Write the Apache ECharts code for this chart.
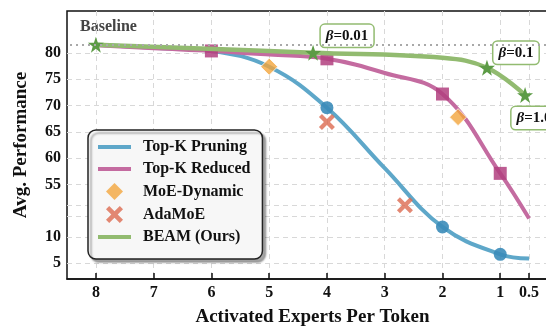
<!DOCTYPE html>
<html>
<head>
<meta charset="utf-8">
<script src="https://cdn.jsdelivr.net/npm/echarts@6/dist/echarts.min.js"></script>
<style>
  html, body { margin: 0; padding: 0; background: #fff; overflow: hidden; }
  /* the plot frame runs past the right edge of the window */
  #chart { width: 558px; height: 326px; }
</style>
</head>
<body>
<div id="chart"></div>
<script>
// ---- data ----
const xTicks = [8, 7, 6, 5, 4, 3, 2, 1, 0.5];
const yTickLabels = [5, 10, 55, 60, 65, 70, 75, 80];
const axisBreakLines = [49, 51];          // unlabeled grid lines around the axis break (display units)
const baseline = 81.6;

const pruningX = [8, 7, 6, 5, 4, 3, 2, 1, 0.5];
const pruningY = [81.6, 81.0, 80.4, 77.4, 69.6, 58.1, 11.9, 6.7, 5.9];
const pruningMarked = [4, 2, 1];

const reducedX = [8, 7, 6, 5, 4, 3, 2, 1, 0.5];
const reducedY = [81.5, 80.9, 80.4, 79.7, 78.9, 76.2, 72.2, 57.1, 13.5];
const reducedMarked = [6, 4, 2, 1];

const dynamicX = [5.0, 1.73];
const dynamicY = [77.4, 67.8];

const adaX = [4.0, 2.65];
const adaY = [66.9, 23.4];

const beamX = [8, 4.24, 2, 1.23, 0.57];
const beamY = [81.6, 80.05, 79.1, 77.2, 72.0];
const beamMarked = [8, 4.24, 1.23, 0.57];
const beamBeta = { '4.24': '0.01', '1.23': '0.1', '0.57': '1.0' };

// ---- broken y scale: low values are lifted, the gap 15..55 is squeezed ----
function toDisp(v) {
  if (v >= 55) return v;
  if (v <= 15) return v + 35;
  return 50 + (v - 15) / 8;
}
function fromDisp(d) {
  if (d >= 55) return d;
  if (d <= 50) return d - 35;
  return 15 + (d - 50) * 8;
}

const FONT = 'Liberation Serif';
const C = {
  blue: '#5ea7c9', blueMk: '#3b8cb9',
  pink: '#c46ba0', pinkMk: '#b2407f',
  green: '#92bb70', greenMk: '#5c9b45',
  orange: '#f2a53c', red: '#dc6a50'
};
const starPath = 'path://M50,0 L61.8,34.5 L97.6,34.5 L68.8,55.9 L79.4,90.5 L50,69.1 L20.6,90.5 L31.2,55.9 L2.4,34.5 L38.2,34.5 Z';
const crossPath = 'path://M0,3 L3,0 L8,5 L13,0 L16,3 L11,8 L16,13 L13,16 L8,11 L3,16 L0,13 L5,8 Z';
const lineIcon = 'path://M0,0 L33,0 L33,4 L0,4 Z';
const diamondIcon = 'path://M8,0 L16,8 L8,16 L0,8 Z';

const betaOffsets = { '0.01': [34, -17], '0.1': [29, -15], '1.0': [9, 23] };

const chart = echarts.init(document.getElementById('chart'), null, { renderer: 'canvas' });

chart.setOption({
  animation: false,
  grid: { left: 67, right: 0, top: 11, bottom: 47, show: true, borderColor: '#111', borderWidth: 1.5,
    outerBoundsMode: 'none', containLabel: false },
  xAxis: {
    type: 'value', inverse: true, min: 0, max: 8.5,
    axisLine: { lineStyle: { color: '#111', width: 1.5 } },
    axisTick: { show: true, inside: true, length: 6, customValues: xTicks, lineStyle: { color: '#111', width: 1.5 } },
    axisLabel: { customValues: xTicks, margin: 6, fontFamily: FONT, fontWeight: 'bold', fontSize: 16, color: '#111',
      formatter: v => String(v) },
    splitLine: { show: true, lineStyle: { color: '#d8d8d8', type: [5, 4], width: 1 } },
    name: 'Activated Experts Per Token', nameLocation: 'middle', nameGap: 29,
    nameTextStyle: { fontFamily: FONT, fontWeight: 'bold', fontSize: 19, color: '#111' }
  },
  yAxis: {
    type: 'value', min: 37, max: 88,
    axisLine: { show: true, lineStyle: { color: '#111', width: 1.5 } },
    axisTick: { show: true, length: 5, customValues: yTickLabels.map(toDisp).concat(axisBreakLines),
      lineStyle: { color: '#111', width: 1.5 } },
    axisLabel: { customValues: yTickLabels.map(toDisp), margin: 6, fontFamily: FONT, fontWeight: 'bold', fontSize: 16,
      color: '#111', formatter: d => String(Math.round(fromDisp(d))) },
    splitLine: { show: true, lineStyle: { color: '#d8d8d8', type: [5, 4], width: 1 } },
    name: 'Avg. Performance', nameLocation: 'middle', nameGap: 36, nameRotate: 90,
    nameTextStyle: { fontFamily: FONT, fontWeight: 'bold', fontSize: 19, color: '#111' }
  },
  legend: {
    orient: 'vertical', left: 88, top: 130,
    data: [
      { name: 'Top-K Pruning', icon: lineIcon },
      { name: 'Top-K Reduced', icon: lineIcon },
      { name: 'MoE-Dynamic', icon: diamondIcon, itemStyle: { borderWidth: 0 } },
      { name: 'AdaMoE', icon: crossPath },
      { name: 'BEAM (Ours)', icon: lineIcon }
    ],
    itemWidth: 33, itemHeight: 17, itemGap: 6, symbolKeepAspect: true,
    padding: [9, 12, 14, 10],
    backgroundColor: '#f7f7f7', borderColor: '#222', borderWidth: 1.5, borderRadius: 8,
    shadowColor: 'rgba(0,0,0,0.35)', shadowOffsetX: 3, shadowOffsetY: 3, shadowBlur: 2,
    textStyle: { fontFamily: FONT, fontWeight: 'bold', fontSize: 16, color: '#111', padding: [0, 0, 0, 7] }
  },
  graphic: [{
    type: 'text', left: 80, top: 19,
    style: { text: 'Baseline', font: 'bold 16px "Liberation Serif"', fill: '#444' }
  }],
  series: [
    {
      name: 'Top-K Pruning', type: 'line', smooth: 0.4, symbol: 'none', z: 2,
      lineStyle: { color: C.blue, width: 4 }, itemStyle: { color: C.blue },
      data: pruningX.map((x, i) => ({
        value: [x, toDisp(pruningY[i])],
        symbol: pruningMarked.includes(x) ? 'circle' : 'none', symbolSize: 13,
        itemStyle: { color: C.blueMk, opacity: 0.9 }
      })),
      markLine: {
        silent: true, symbol: 'none', label: { show: false },
        lineStyle: { color: '#a9a9a9', type: [2, 4], width: 2 },
        data: [{ yAxis: toDisp(baseline) }]
      }
    },
    {
      name: 'Top-K Reduced', type: 'line', smooth: 0.4, symbol: 'none', z: 3,
      lineStyle: { color: C.pink, width: 4 }, itemStyle: { color: C.pink },
      data: reducedX.map((x, i) => ({
        value: [x, toDisp(reducedY[i])],
        symbol: reducedMarked.includes(x) ? 'rect' : 'none', symbolSize: 13,
        itemStyle: { color: C.pinkMk, opacity: 0.85 }
      }))
    },
    {
      name: 'BEAM (Ours)', type: 'line', smooth: 0.4, symbol: 'none', z: 4,
      lineStyle: { color: C.green, width: 4.5 }, itemStyle: { color: C.green },
      data: beamX.map((x, i) => {
        const beta = beamBeta[String(x)];
        const item = {
          value: [x, toDisp(beamY[i])],
          symbol: beamMarked.includes(x) ? starPath : 'none',
          symbolSize: 16,
          itemStyle: { color: C.greenMk }
        };
        if (beta) {
          item.label = {
            show: true, position: 'inside', offset: betaOffsets[beta],
            formatter: '{b|β}=' + beta,
            rich: { b: { fontStyle: 'italic', fontWeight: 'bold', fontFamily: FONT, fontSize: 15, color: '#111' } },
            fontFamily: FONT, fontWeight: 'bold', fontSize: 15, color: '#111',
            backgroundColor: '#fff', borderColor: C.green, borderWidth: 1.5, borderRadius: 4,
            padding: [4, 5, 3, 5]
          };
        }
        return item;
      })
    },
    {
      name: 'MoE-Dynamic', type: 'scatter', symbol: 'diamond', symbolSize: 17, z: 5,
      itemStyle: { color: C.orange, borderColor: '#fff', borderWidth: 1 },
      data: dynamicX.map((x, i) => [x, toDisp(dynamicY[i])])
    },
    {
      name: 'AdaMoE', type: 'scatter', symbol: crossPath, symbolSize: 16, z: 5,
      itemStyle: { color: C.red },
      data: adaX.map((x, i) => [x, toDisp(adaY[i])])
    }
  ]
});
</script>
</body>
</html>
